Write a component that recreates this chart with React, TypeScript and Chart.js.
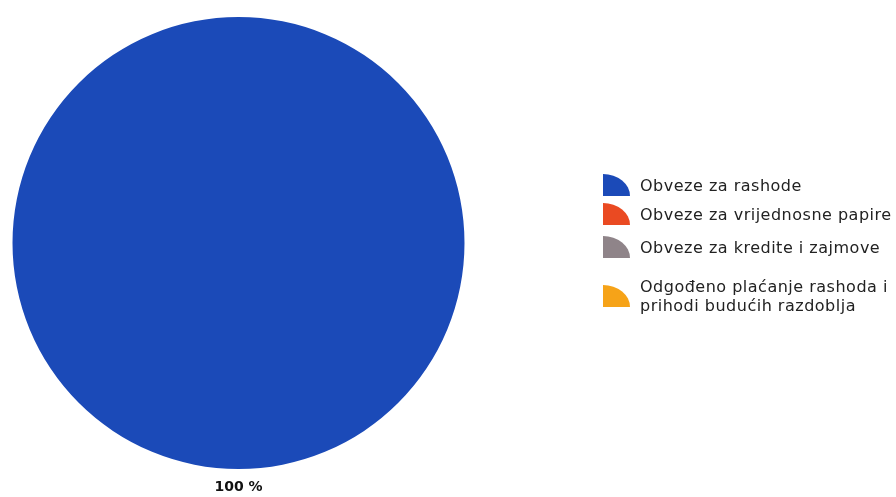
import React, { useEffect, useRef } from "react";
import { Chart, registerables } from "chart.js";

Chart.register(...registerables);

const categories = [
  "Obveze za rashode",
  "Obveze za vrijednosne papire",
  "Obveze za kredite i zajmove",
  "Odgođeno plaćanje rashoda i prihodi budućih razdoblja",
];
const legendLines = [
  ["Obveze za rashode"],
  ["Obveze za vrijednosne papire"],
  ["Obveze za kredite i zajmove"],
  ["Odgođeno plaćanje rashoda i", "prihodi budućih razdoblja"],
];
const shares = [100, 0, 0, 0];
const colors = ["#1b4ab8", "#ea4a22", "#8f8489", "#f6a318"];

export default function App() {
  const ref = useRef<HTMLCanvasElement | null>(null);

  useEffect(() => {
    document.body.style.margin = "0";
    const canvas = ref.current;
    if (!canvas) return;
    const labelPlugin = {
      id: "pctLabel",
      afterDraw(chart: any) {
        const meta = chart.getDatasetMeta(0);
        const total = shares.reduce((a, b) => a + b, 0);
        const ctx = chart.ctx;
        ctx.save();
        ctx.font = "bold 14px 'DejaVu Sans', Verdana, sans-serif";
        ctx.fillStyle = "#111";
        ctx.textAlign = "center";
        ctx.textBaseline = "middle";
        meta.data.forEach((arc: any, i: number) => {
          if (shares[i] <= 0) return;
          const pct = Math.round((shares[i] / total) * 100);
          const mid = (arc.startAngle + arc.endAngle) / 2;
          let x: number, y: number;
          if (pct === 100) {
            x = arc.x;
            y = arc.y + arc.outerRadius + 18;
          } else {
            x = arc.x + Math.cos(mid) * (arc.outerRadius + 18);
            y = arc.y + Math.sin(mid) * (arc.outerRadius + 18);
          }
          ctx.fillText(pct + " %", x, y);
        });
        ctx.restore();
      },
    };
    const chart = new Chart(canvas, {
      type: "pie",
      data: {
        labels: categories,
        datasets: [
          {
            data: shares,
            backgroundColor: colors,
            borderWidth: 0,
          },
        ],
      },
      options: {
        animation: false,
        responsive: false,
        maintainAspectRatio: false,
        rotation: 180,
        layout: { padding: { left: 12, top: 17, right: 431, bottom: 28 } },
        plugins: {
          legend: { display: false },
          tooltip: { enabled: false },
        },
      },
      plugins: [labelPlugin],
    });
    return () => chart.destroy();
  }, []);

  const rowTops = [174, 203, 236, 277];

  return (
    <div style={{ position: "relative", width: 896, height: 497, background: "#fff", overflow: "hidden" }}>
      <canvas ref={ref} width={896} height={497} style={{ position: "absolute", left: 0, top: 0 }} />
      {legendLines.map((lines, i) => (
        <div
          key={i}
          style={{
            position: "absolute",
            left: 603,
            top: rowTops[i],
            display: "flex",
            alignItems: "center",
            fontFamily: "'DejaVu Sans', sans-serif",
            fontSize: 16,
            letterSpacing: "0.5px",
            lineHeight: "19px",
            color: "#222",
          }}
        >
          <div
            style={{
              width: 27,
              height: 22,
              background: colors[i],
              borderTopRightRadius: "27px 22px",
              marginRight: 10,
              flex: "none",
            }}
          />
          <div style={{ whiteSpace: "nowrap" }}>
            {lines.map((l, j) => (
              <div key={j}>{l}</div>
            ))}
          </div>
        </div>
      ))}
    </div>
  );
}
